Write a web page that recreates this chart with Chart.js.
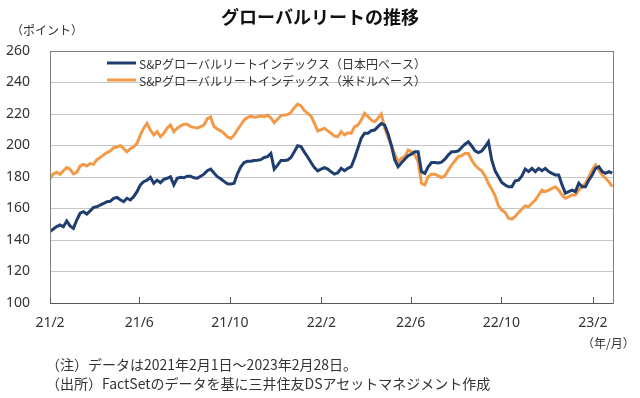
<!DOCTYPE html>
<html lang="ja">
<head>
<meta charset="UTF-8">
<title>グローバルリートの推移</title>
<script src="https://cdn.jsdelivr.net/npm/chart.js"></script>
<style>
  body { margin: 0; background: #fff; font-family: "Noto Sans CJK JP", "Noto Sans", sans-serif; color: #333; }
  #wrap { position: relative; width: 640px; height: 398px; }
  #wrap canvas { position: absolute; left: 0; top: 0; }
  .txt { position: absolute; white-space: nowrap; line-height: 1; }
</style>
</head>
<body>
<div id="wrap">
  <canvas id="reitChart" width="640" height="398"></canvas>
  <div class="txt" style="left:0;width:640px;top:7px;text-align:center;font-size:18px;font-weight:bold;color:#111;">グローバルリートの推移</div>
  <div class="txt" style="left:11px;top:24px;font-size:12px;">（ポイント）</div>
  <div class="txt" style="left:582px;top:337px;font-size:12px;">（年/月）</div>
  <div class="txt" style="left:46px;top:357px;font-size:14px;">（注）データは2021年2月1日～2023年2月28日。</div>
  <div class="txt" style="left:46px;top:376px;font-size:14px;">（出所）FactSetのデータを基に三井住友DSアセットマネジメント作成</div>
</div>

<script>
// x軸：2021/2/1からの日数
const tickDays = [0, 120, 242, 365, 485, 607, 730];
const tickLabels = ['21/2', '21/6', '21/10', '22/2', '22/6', '22/10', '23/2'];
const lastDay = 757; // 2023/2/28
const sampleStep = 4.5;

const seriesNames = ['S&Pグローバルリートインデックス（日本円ベース）', 'S&Pグローバルリートインデックス（米ドルベース）'];

// 日本円ベース
const jpyValues = [
  145.3, 147, 148.5, 149.5, 148.4, 152, 149, 147.4, 152.7, 157,
  158, 156.5, 158.5, 160.7, 161.1, 162.2, 163.2, 164.3, 164.6, 166.5,
  167, 165.5, 164.3, 166.5, 165.4, 167.5, 170.7, 175, 177, 178,
  179.8, 176, 178, 176.4, 178.5, 179.2, 180.2, 175, 179.2, 179.8,
  179.5, 180.5, 180.5, 179.5, 179.2, 180.5, 181.8, 184, 185, 182.5,
  180.2, 178.9, 177.2, 175.7, 175.5, 176, 182, 186.5, 189.2, 190,
  190, 190.5, 190.7, 191, 192.4, 192.9, 195, 185, 187.5, 190.5,
  190.5, 190.8, 192.4, 196, 199.8, 199.3, 195.8, 192.7, 189.2, 186,
  183.9, 185, 186, 185, 183.3, 181.8, 182.7, 185.5, 184, 185.5,
  186.5, 191.9, 198.2, 204.6, 207.7, 207.7, 209.4, 209.8, 212, 214,
  213, 207.5, 200, 191, 186.5, 189, 191.3, 193.5, 194.5, 196,
  196, 183.4, 182.3, 186.5, 189.2, 189.2, 188.9, 189.4, 191.3, 194,
  196, 196, 196.6, 198.7, 200.8, 202.4, 199.7, 196.6, 195.5, 196.5,
  199.2, 202.4, 190.7, 183.9, 180.2, 176.5, 174.9, 173.8, 173.8, 177.6,
  178, 180.7, 185, 183.4, 185.5, 183.4, 185.5, 184, 185.5, 183.4,
  182.3, 181.3, 181.3, 175, 169.7, 170.7, 171.7, 170.7, 176, 173.8,
  173.8, 178, 181.3, 185.5, 186.5, 183.4, 182.3, 183.4, 182.5
];

// 米ドルベース
const usdValues = [
  179, 182, 183, 181.7, 184, 186, 185, 182, 183, 187,
  188, 187, 188.5, 188, 191, 192.3, 194, 195.5, 196.5, 198.6,
  199, 200, 198, 196, 198, 199.2, 201.4, 206.7, 211, 214,
  209.8, 206.7, 208.8, 205.6, 207.7, 211, 213, 208.8, 211, 212.4,
  213.5, 213.5, 212, 211.5, 211, 212, 213, 217, 218, 212,
  210.5, 209.3, 207.7, 205.5, 204.5, 206.5, 210, 213, 216.2, 217.8,
  218.5, 218, 218.3, 218.7, 218.3, 219.3, 217.5, 214.5, 216.7, 219,
  219.3, 219.7, 221, 224, 226.3, 225.2, 222.2, 220.4, 218.6, 214,
  209.3, 210, 211, 209.3, 207.7, 206, 205.6, 208.8, 206.7, 208.1,
  207.7, 212, 213, 216.2, 220.4, 218.3, 216.2, 215.1, 217.3, 220,
  211, 205.5, 199.8, 194.5, 189.7, 191.9, 192.9, 197.1, 196.1, 194,
  189.7, 176, 175, 180.2, 181.8, 181.8, 180.7, 179.7, 180.7, 184.4,
  187.6, 190.3, 192.9, 193.5, 195, 195, 190.8, 187.6, 185.5, 183.9,
  180.7, 175.9, 172.2, 168, 161.7, 159, 157.5, 153.8, 153.2, 154.9,
  157.5, 159.5, 161.7, 161.1, 163.3, 165.4, 168.6, 171.7, 170.7, 171.7,
  172.8, 173.8, 171.7, 168.6, 166.5, 167.5, 168.6, 168.6, 171.7, 173.8,
  176, 180.2, 184.4, 187.6, 184.4, 181.3, 179.2, 177, 173.8
];

const yMin = 100, yMax = 260, yStep = 20;
const navy = '#1f3e6f';
const orange = '#f29a48';

function toPoints(values) {
  return values.map((v, i) => ({ x: i * sampleStep, y: v }));
}

// 枠線・内向き目盛り・凡例
const decorPlugin = {
  id: 'decor',
  afterDatasetsDraw(chart) {
    const { ctx, chartArea: a, scales } = chart;
    ctx.save();
    ctx.strokeStyle = '#808080';
    ctx.lineWidth = 1;
    ctx.strokeRect(Math.round(a.left) + 0.5, Math.round(a.top) + 0.5,
      Math.round(a.right - a.left), Math.round(a.bottom - a.top));
    ctx.strokeStyle = '#595959';
    ctx.beginPath();
    ctx.moveTo(a.left, Math.round(a.bottom) + 0.5);
    ctx.lineTo(a.right, Math.round(a.bottom) + 0.5);
    tickDays.forEach(d => {
      const px = Math.round(scales.x.getPixelForValue(d)) + 0.5;
      ctx.moveTo(px, a.bottom);
      ctx.lineTo(px, a.bottom - 6);
    });
    ctx.stroke();

    // 凡例
    ctx.font = '12px "Noto Sans CJK JP", sans-serif';
    ctx.textBaseline = 'middle';
    chart.data.datasets.forEach((ds, i) => {
      const y = 63 + i * 17;
      ctx.strokeStyle = ds.borderColor;
      ctx.lineWidth = 3;
      ctx.beginPath();
      ctx.moveTo(107, y);
      ctx.lineTo(136, y);
      ctx.stroke();
      ctx.fillStyle = '#333';
      ctx.fillText(ds.label, 139, y + 1);
    });
    ctx.restore();
  }
};

new Chart(document.getElementById('reitChart'), {
  type: 'line',
  data: {
    datasets: [
      { label: seriesNames[0], data: toPoints(jpyValues), borderColor: navy, borderWidth: 3 },
      { label: seriesNames[1], data: toPoints(usdValues), borderColor: orange, borderWidth: 3 }
    ]
  },
  options: {
    responsive: false,
    devicePixelRatio: 1,
    animation: false,
    layout: { padding: { left: 0, right: 27, top: 51, bottom: 0 } },
    elements: { point: { radius: 0 }, line: { tension: 0 } },
    plugins: { legend: { display: false }, title: { display: false }, tooltip: { enabled: false } },
    scales: {
      x: {
        type: 'linear',
        min: 0,
        max: lastDay,
        afterBuildTicks: s => { s.ticks = tickDays.map(v => ({ value: v })); },
        afterFit: s => { s.height = 95; },
        grid: { display: false, drawTicks: false },
        border: { display: false },
        ticks: {
          autoSkip: false,
          maxRotation: 0,
          padding: 12,
          color: '#333',
          font: { size: 14, family: '"Noto Sans", sans-serif' },
          callback: v => tickLabels[tickDays.indexOf(v)]
        }
      },
      y: {
        min: yMin,
        max: yMax,
        afterFit: s => { s.width = 50; },
        grid: { color: '#c6c6c6', drawTicks: false },
        border: { display: false },
        ticks: {
          stepSize: yStep,
          padding: 20,
          color: '#333',
          font: { size: 14, family: '"Noto Sans", sans-serif' }
        }
      }
    }
  },
  plugins: [decorPlugin]
});
</script>
</body>
</html>
